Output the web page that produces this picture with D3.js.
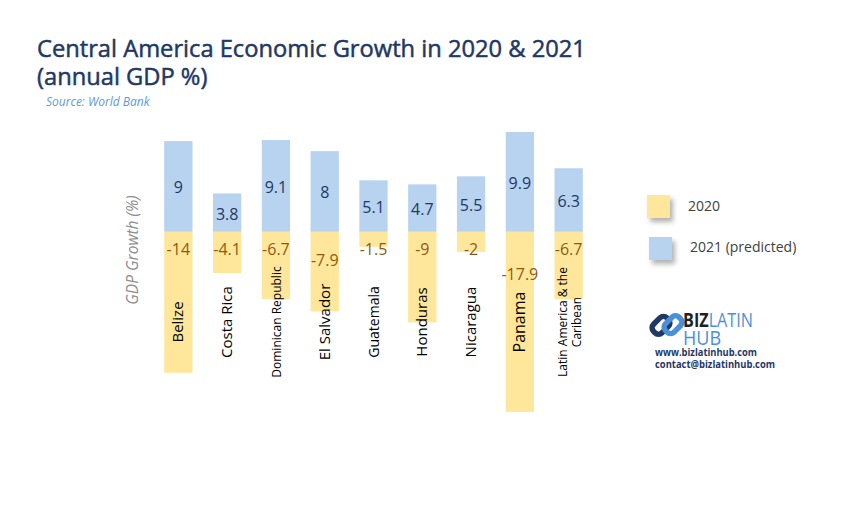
<!DOCTYPE html>
<html><head><meta charset="utf-8">
<script src="https://cdn.jsdelivr.net/npm/d3@7"></script>
<style>
body{margin:0;background:#fff;}
svg{display:block;font-family:"Open Sans",sans-serif;}
</style></head>
<body><svg id="c" width="851" height="510"></svg>
<script>
const categories = ["Belize","Costa Rica","Dominican Republic","El Salvador","Guatemala","Honduras","Nicaragua","Panama","Latin America & the Caribean"];
const growth2020 = [-14,-4.1,-6.7,-7.9,-1.5,-9,-2,-17.9,-6.7];
const growth2021 = [9,3.8,9.1,8,5.1,4.7,5.5,9.9,6.3];
const seriesNames = ["2020","2021 (predicted)"];

const svg = d3.select("#c");
const W = 851, H = 510;
svg.append("rect").attr("width",W).attr("height",H).attr("fill","#fff");

const defs = svg.append("defs");
const f = defs.append("filter").attr("id","sh").attr("x","-50%").attr("y","-50%").attr("width","200%").attr("height","200%");
f.append("feDropShadow").attr("dx",3).attr("dy",4).attr("stdDeviation",2.5).attr("flood-color","#000").attr("flood-opacity",0.3);

// Title
svg.append("text").attr("x",37).attr("y",57).attr("fill","#1f3864").attr("font-size",23.7)
  .attr("stroke","#1f3864").attr("stroke-width",0.5)
  .text("Central America Economic Growth in 2020 & 2021");
svg.append("text").attr("x",37).attr("y",85).attr("fill","#1f3864").attr("font-size",23.7)
  .attr("stroke","#1f3864").attr("stroke-width",0.5)
  .text("(annual GDP %)");
svg.append("text").attr("x",46).attr("y",106).attr("fill","#5b9bd5").attr("font-size",12).attr("font-style","italic")
  .text("Source: World Bank");

// Scales
const x = d3.scaleBand().domain(categories).range([152, 595]).paddingInner(0.42).paddingOuter(0.25);
const y = d3.scaleLinear().domain([-17.9, 9.9]).range([412, 132]);
const y0 = y(0);

const cYellow = "#fee79a", cBlue = "#b7d3ef";

const g = svg.append("g");
// 2020 bars
g.selectAll(".b20").data(categories).join("rect")
  .attr("x", d => x(d)).attr("width", x.bandwidth())
  .attr("y", y0).attr("height", (d,i) => y(growth2020[i]) - y0)
  .attr("fill", cYellow);
// 2021 bars
g.selectAll(".b21").data(categories).join("rect")
  .attr("x", d => x(d)).attr("width", x.bandwidth())
  .attr("y", (d,i) => y(growth2021[i])).attr("height", (d,i) => y0 - y(growth2021[i]))
  .attr("fill", cBlue);

// value labels 2021
g.selectAll(".l21").data(categories).join("text")
  .attr("x", d => x(d) + x.bandwidth()/2)
  .attr("y", (d,i) => (y(growth2021[i]) + y0)/2 + 7)
  .attr("text-anchor","middle").attr("font-size",16).attr("fill","#1f3864")
  .text((d,i) => growth2021[i]);
// value labels 2020
g.selectAll(".l20").data(categories).join("text")
  .attr("x", d => x(d) + x.bandwidth()/2)
  .attr("y", (d,i) => y0 + 23 + (growth2020[i] < -15 ? 25 : (growth2020[i] < -7.5 && growth2020[i] > -8.5 ? 11 : 0)))
  .attr("text-anchor","middle").attr("font-size",16).attr("fill","#8c5a14")
  .text((d,i) => growth2020[i]);

// category labels (rotated)
categories.forEach((c,i) => {
  const cx = x(c) + x.bandwidth()/2;
  const cy = 322;
  const t = g.append("text").attr("transform", `translate(${cx},${cy}) rotate(-90)`)
    .attr("text-anchor","middle").attr("fill","#000")
    .attr("font-size", c === "Dominican Republic" || c.startsWith("Latin") ? 12 : (c==="Guatemala"?14:(c==="Panama"?16:15)));
  if (c.startsWith("Latin")) {
    t.append("tspan").attr("x",0).attr("dy",-2).text("Latin America & the");
    t.append("tspan").attr("x",0).attr("dy",14).text("Caribean");
  } else {
    t.attr("dy",5).text(c);
  }
});

// y axis title
svg.append("text").attr("transform","translate(138,250) rotate(-90)").attr("text-anchor","middle")
  .attr("font-size",15.5).attr("font-style","italic").attr("fill","#8c8c8c").text("GDP Growth (%)");

// legend
const leg = svg.append("g");
[[cYellow,647,195,688,211],[cBlue,649,237,690,252]].forEach((p,i) => {
  leg.append("rect").attr("x",p[1]).attr("y",p[2]).attr("width",23).attr("height",23).attr("fill",p[0]).attr("filter","url(#sh)");
  leg.append("text").attr("x",p[3]).attr("y",p[4]).attr("font-size",14).attr("fill","#404040").text(seriesNames[i]);
});

// logo
const logo = svg.append("g");
const ic = logo.append("g").attr("transform","translate(667,325) rotate(-45)");
ic.append("rect").attr("x",-14).attr("y",-10).attr("width",19).attr("height",12).attr("rx",5).attr("fill","none").attr("stroke","#1f3864").attr("stroke-width",5.5);
ic.append("rect").attr("x",-5).attr("y",-2).attr("width",19).attr("height",12).attr("rx",5).attr("fill","none").attr("stroke","#4a90d9").attr("stroke-width",5.5);
const lt = logo.append("text").attr("transform","translate(683,327) scale(1,1.2)").attr("font-size",17)
  .attr("textLength",70).attr("lengthAdjust","spacingAndGlyphs");
lt.append("tspan").attr("font-weight",700).attr("fill","#231f20").text("BIZ");
lt.append("tspan").attr("fill","#4a90d9").text("LATIN");
logo.append("text").attr("transform","translate(683,345) scale(1,1.2)").attr("font-size",17).attr("fill","#4a90d9")
  .attr("textLength",38).attr("lengthAdjust","spacingAndGlyphs").text("HUB");
logo.append("text").attr("x",655).attr("y",356).attr("font-size",10.5).attr("font-weight",700).attr("fill","#1f3864")
  .attr("textLength",102).attr("lengthAdjust","spacingAndGlyphs").text("www.bizlatinhub.com");
logo.append("text").attr("x",655).attr("y",368).attr("font-size",10.5).attr("font-weight",700).attr("fill","#1f3864")
  .attr("textLength",120).attr("lengthAdjust","spacingAndGlyphs").text("contact@bizlatinhub.com");
</script></body></html>
